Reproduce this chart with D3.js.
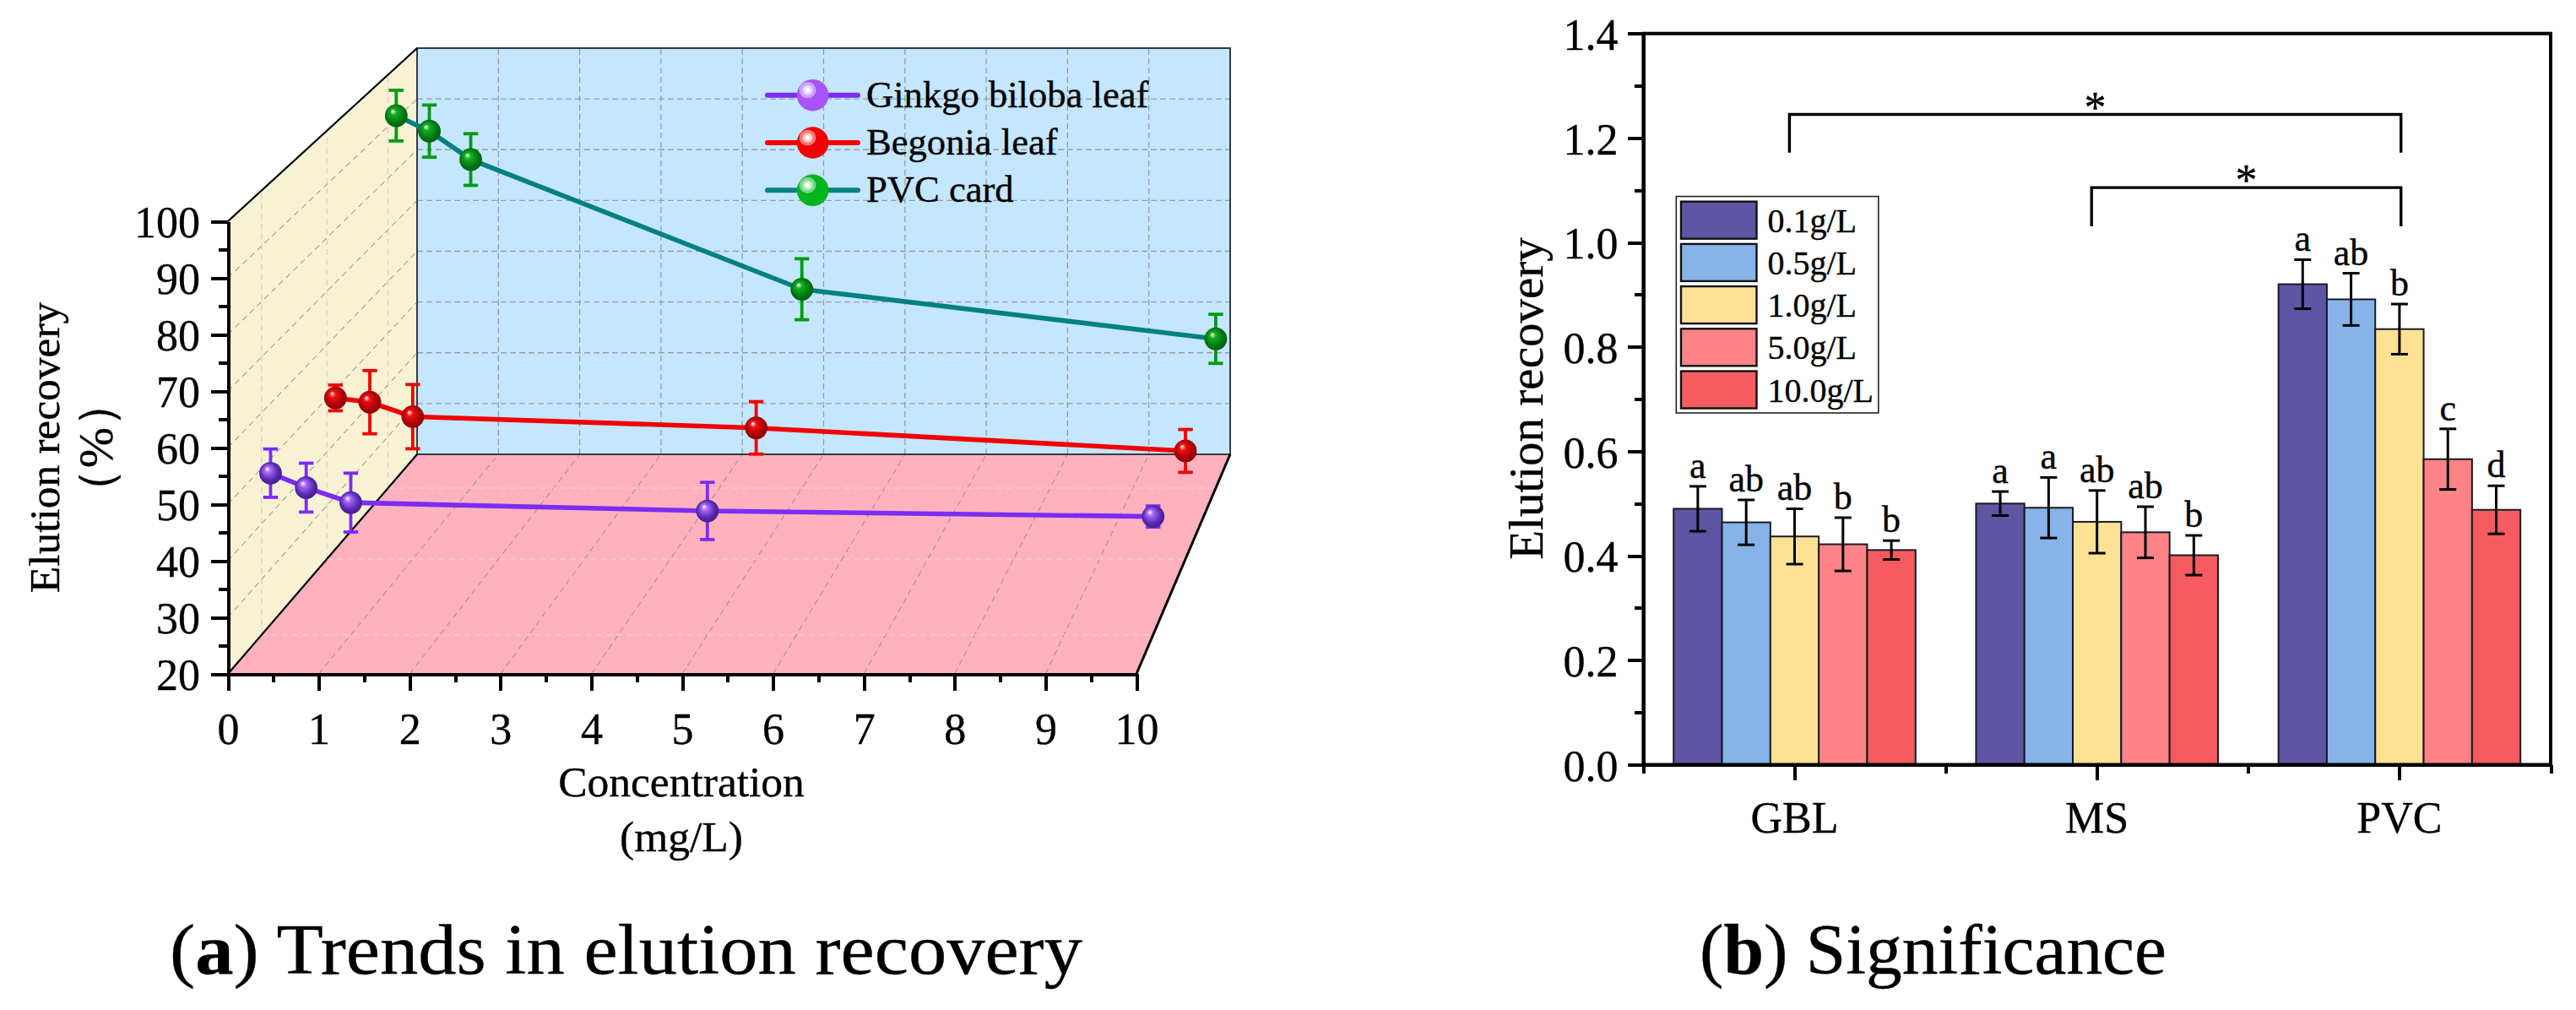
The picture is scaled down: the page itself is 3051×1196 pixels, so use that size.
<!DOCTYPE html>
<html><head><meta charset="utf-8">
<style>
html,body{margin:0;padding:0;background:#fff}
svg{display:block}
text{font-family:"Liberation Serif","Times New Roman",serif;fill:#000;stroke:#000;stroke-width:0.35px}
.axis path,.axis line{stroke:#000;stroke-width:4;shape-rendering:crispEdges}
.axis text{font-family:"Liberation Serif",serif;font-size:52px;fill:#000}
</style>
<script src="https://cdn.jsdelivr.net/npm/d3@7"></script>
</head><body><svg id="c" width="3051" height="1196" viewBox="0 0 3051 1196"></svg>
<script>
// ---------- panel (a) data ----------
const concentrations = [0.1, 0.5, 1, 5, 10];
const seriesNames = ["Ginkgo biloba leaf", "Begonia leaf", "PVC card"];
const seriesDepths = [0.178, 0.523, 0.846];
const ginkgoValues = [49.1, 46.5, 43.8, 42.3, 41.3];
const ginkgoErrors = [4.35, 4.4, 5.3, 5.15, 1.9];
const begoniaValues = [50.1, 49.3, 46.6, 44.5, 40.2];
const begoniaErrors = [2.4, 5.9, 6.0, 4.9, 4.0];
const pvcValues = [92.1, 89.1, 83.6, 58.5, 48.9];
const pvcErrors = [4.9, 5.05, 5.0, 5.9, 4.75];
const xTicksA = d3.range(0, 11, 1);
const yTicksA = d3.range(20, 101, 10);
const depthGrid = [0.178, 0.523, 0.846];
const lineColors = ["#7b2cf5", "#f00000", "#008080"];
const errorColors = ["#7b2cf5", "#f00000", "#009a10"];
const ballStops = [["#a868ff", "#5a2ab0", "#36157a"], ["#f01010", "#b00008", "#6a0004"], ["#10b020", "#007a14", "#00480c"]];
const legendBall = ["#a855f7", "#f00000", "#00b41e"];

// ---------- panel (b) data ----------
const categories = ["GBL", "MS", "PVC"];
const doses = ["0.1g/L", "0.5g/L", "1.0g/L", "5.0g/L", "10.0g/L"];
const doseColors = ["#5e56a3", "#86b4e9", "#fee294", "#ff8387", "#f55b5f"];
const gblValues = [0.490, 0.464, 0.437, 0.422, 0.411];
const gblErrors = [0.043, 0.043, 0.053, 0.051, 0.018];
const gblLetters = ["a", "ab", "ab", "b", "b"];
const msValues = [0.500, 0.492, 0.465, 0.445, 0.401];
const msErrors = [0.023, 0.058, 0.060, 0.049, 0.038];
const msLetters = ["a", "a", "ab", "ab", "b"];
const pvcBarValues = [0.920, 0.891, 0.834, 0.585, 0.488];
const pvcBarErrors = [0.047, 0.050, 0.048, 0.058, 0.046];
const pvcLetters = ["a", "ab", "b", "c", "d"];
const yTicksB = [0, 0.2, 0.4, 0.6, 0.8, 1.0, 1.2, 1.4];
const brackets = [
  {from: -0.017, to: 2.005, top: 1.245, drop: 1.172},
  {from: 0.982, to: 2.005, top: 1.105, drop: 1.031}
];

const svg = d3.select("#c");

// ================= PANEL A =================
const xFront = d3.scaleLinear().domain([0, 10]).range([270, 1346]);
const xBack  = d3.scaleLinear().domain([0, 10]).range([494, 1457]);
const yFront = d3.scaleLinear().domain([20, 100]).range([798, 262]);
const yBack  = d3.scaleLinear().domain([20, 100]).range([538, 57]);
const project = (x, v, d) => [
  xFront(x) + (xBack(x) - xFront(x)) * d,
  yFront(v) + (yBack(v) - yFront(v)) * d
];
const A = svg.append("g");
const poly = pts => "M" + pts.map(p => p.join(",")).join("L") + "Z";
// walls
A.append("path").attr("d", poly([project(0,20,1),project(10,20,1),project(10,100,1),project(0,100,1)]))
  .attr("fill", "#c5e6ff");
A.append("path").attr("d", poly([project(0,20,0),project(10,20,0),project(10,20,1),project(0,20,1)]))
  .attr("fill", "#ffb2be");
A.append("path").attr("d", poly([project(0,20,0),project(0,20,1),project(0,100,1),project(0,100,0)]))
  .attr("fill", "#f8f2d4");

const seg = (g, a, b, stroke, dash, w) => g.append("line")
  .attr("x1", a[0]).attr("y1", a[1]).attr("x2", b[0]).attr("y2", b[1])
  .attr("stroke", stroke).attr("stroke-width", w).attr("stroke-dasharray", dash);
const grid = A.append("g");
// back wall
xTicksA.slice(1, -1).forEach(x => seg(grid, project(x,20,1), project(x,100,1), "#949ea6", "7 4", 1.3));
yTicksA.slice(1, -1).forEach(v => seg(grid, project(0,v,1), project(10,v,1), "#949ea6", "7 4", 1.3));
// floor
xTicksA.slice(1, -1).forEach(x => seg(grid, project(x,20,0), project(x,20,1), "#a08f96", "7 5", 1.1));
depthGrid.forEach(d => seg(grid, project(0,20,d), project(10,20,d), "#f9d6da", "7 5", 1.1));
// left wall
yTicksA.slice(1, -1).forEach(v => seg(grid, project(0,v,0), project(0,v,1), "#a3a08c", "7 5", 1.1));
depthGrid.forEach(d => seg(grid, project(0,20,d), project(0,100,d), "#d0cdbf", "7 5", 1.1));

// frame
const frame = A.append("g").attr("stroke", "#222").attr("fill", "none");
frame.append("path").attr("d", poly([project(0,20,1),project(10,20,1),project(10,100,1),project(0,100,1)]))
  .attr("stroke-width", 2).attr("stroke", "#333c44");
frame.append("path").attr("d", "M" + project(0,100,0) + "L" + project(0,100,1)).attr("stroke-width", 2.2).attr("stroke","#000");
frame.append("path").attr("d", "M" + project(0,20,0) + "L" + project(0,20,1)).attr("stroke-width", 2.2).attr("stroke","#000");
frame.append("path").attr("d", "M" + project(10,20,0) + "L" + project(10,20,1)).attr("stroke-width", 3).attr("stroke","#000");

// axes
const axYA = A.append("g").attr("class", "axis").attr("transform", `translate(${xFront(0)},0)`)
  .call(d3.axisLeft(yFront).tickValues(yTicksA).tickSize(20).tickSizeOuter(0).tickPadding(13).tickFormat(d3.format("d")));
axYA.selectAll("text").attr("dy", "0.36em");
A.append("g").attr("class", "axis").attr("transform", `translate(${xFront(0)},0)`)
  .call(d3.axisLeft(yFront).tickValues(d3.range(25, 100, 10)).tickSize(11).tickSizeOuter(0).tickFormat(""))
  .select("path").remove();
A.append("g").attr("class", "axis").attr("transform", `translate(0,${yFront(20)})`)
  .call(d3.axisBottom(xFront).tickValues(xTicksA).tickSize(20).tickSizeOuter(0).tickPadding(26).tickFormat(d3.format("d")));
A.append("g").attr("class", "axis").attr("transform", `translate(0,${yFront(20)})`)
  .call(d3.axisBottom(xFront).tickValues(d3.range(0.5, 10, 1)).tickSize(10).tickSizeOuter(0).tickFormat(""))
  .select("path").remove();

// gradients for balls
const defs = svg.append("defs");
ballStops.forEach((s, i) => {
  const g = defs.append("radialGradient").attr("id", "ball" + i)
    .attr("cx", "50%").attr("cy", "50%").attr("r", "62%").attr("fx", "34%").attr("fy", "30%");
  g.append("stop").attr("offset", "0%").attr("stop-color", "#fff");
  g.append("stop").attr("offset", "22%").attr("stop-color", s[0]);
  g.append("stop").attr("offset", "62%").attr("stop-color", s[1]);
  g.append("stop").attr("offset", "100%").attr("stop-color", s[2]);
});

// series
const valuesA = [ginkgoValues, begoniaValues, pvcValues];
const errorsA = [ginkgoErrors, begoniaErrors, pvcErrors];
valuesA.forEach((vals, i) => {
  const d = seriesDepths[i], g = A.append("g");
  const pts = concentrations.map((x, j) => ({x, v: vals[j], e: errorsA[i][j]}));
  pts.forEach(p => {
    const c = project(p.x, p.v, d), t = project(p.x, p.v + p.e, d), b = project(p.x, p.v - p.e, d);
    const e = g.append("g").attr("stroke", errorColors[i]).attr("stroke-width", 3.8);
    e.append("line").attr("x1", c[0]).attr("x2", c[0]).attr("y1", t[1]).attr("y2", b[1]);
    [t[1], b[1]].forEach(y => e.append("line").attr("x1", c[0]-8.7).attr("x2", c[0]+8.7).attr("y1", y).attr("y2", y));
  });
  g.append("path").datum(pts)
    .attr("d", d3.line().x(p => project(p.x, p.v, d)[0]).y(p => project(p.x, p.v, d)[1]))
    .attr("fill", "none").attr("stroke", lineColors[i]).attr("stroke-width", 5.6);
  g.selectAll("circle").data(pts).join("circle")
    .attr("cx", p => project(p.x, p.v, d)[0]).attr("cy", p => project(p.x, p.v, d)[1])
    .attr("r", 13.4).attr("fill", `url(#ball${i})`);
});

// legend A
seriesNames.forEach((n, i) => {
  const y = 112.7 + i * 56.3, g = A.append("g");
  g.append("line").attr("x1", 909).attr("x2", 1016).attr("y1", y).attr("y2", y)
    .attr("stroke", lineColors[i]).attr("stroke-width", 6).attr("stroke-linecap", "round");
  g.append("circle").attr("cx", 962.6).attr("cy", y).attr("r", 18.8).attr("fill", legendBall[i]);
  [[10, 9.6, 0.45], [6.2, 6, 0.55], [3, 2.9, 1]].forEach(e =>
    g.append("ellipse").attr("cx", 956.5).attr("cy", y - 6).attr("rx", e[0]).attr("ry", e[1])
      .attr("fill", "#fff").attr("opacity", e[2]));
  g.append("text").attr("x", 1026).attr("y", y + 14).attr("font-size", 44.6).text(n);
});

// titles A
A.append("text").attr("text-anchor", "middle").attr("x", 807).attr("y", 943).attr("font-size", 51.5).text("Concentration");
A.append("text").attr("text-anchor", "middle").attr("x", 807).attr("y", 1008).attr("font-size", 51.5).text("(mg/L)");
A.append("text").attr("text-anchor", "middle").attr("font-size", 51.5)
  .attr("transform", "translate(70,530) rotate(-90)").text("Elution recovery");
A.append("text").attr("text-anchor", "middle").attr("font-size", 58)
  .attr("transform", "translate(133,530) rotate(-90)").text("（%）");
const capA = A.append("text").attr("x", 201).attr("y", 1153).attr("font-size", 84)
  .attr("textLength", 1081).attr("lengthAdjust", "spacingAndGlyphs");
capA.append("tspan").text("(");
capA.append("tspan").attr("font-weight", "bold").text("a");
capA.append("tspan").text(") Trends in elution recovery");

// ================= PANEL B =================
const xB = d3.scaleBand().domain(categories).range([1946.4, 3021]);
const inner = d3.scaleBand().domain(doses).range([0, xB.bandwidth() * 0.8]);
const yB = d3.scaleLinear().domain([0, 1.4]).range([905.5, 39.7]);
const xIdx = d3.scaleLinear().domain([0, 2]).range([xB("GBL") + xB.bandwidth()/2, xB("PVC") + xB.bandwidth()/2]);
const B = svg.append("g");
const barValues = [gblValues, msValues, pvcBarValues];
const barErrors = [gblErrors, msErrors, pvcBarErrors];
const barLetters = [gblLetters, msLetters, pvcLetters];

categories.forEach((c, ci) => {
  const g = B.append("g").attr("transform", `translate(${xB(c) + xB.bandwidth() * 0.1},0)`);
  const rows = doses.map((d, k) => ({d, k, v: barValues[ci][k], e: barErrors[ci][k], l: barLetters[ci][k]}));
  g.selectAll("rect").data(rows).join("rect")
    .attr("x", r => inner(r.d)).attr("width", inner.bandwidth())
    .attr("y", r => yB(r.v)).attr("height", r => yB(0) - yB(r.v))
    .attr("fill", r => doseColors[r.k]).attr("stroke", "#1a1a22").attr("stroke-width", 2);
  rows.forEach(r => {
    const cx = inner(r.d) + inner.bandwidth()/2, t = yB(r.v + r.e), b = yB(r.v - r.e);
    const e = g.append("g").attr("stroke", "#000").attr("stroke-width", 3);
    e.append("line").attr("x1", cx).attr("x2", cx).attr("y1", t).attr("y2", b);
    [t, b].forEach(y => e.append("line").attr("x1", cx-10).attr("x2", cx+10).attr("y1", y).attr("y2", y));
    g.append("text").attr("x", cx).attr("y", t - 10).attr("text-anchor", "middle").attr("font-size", 44).text(r.l);
  });
});

// frame + axes
B.append("rect").attr("x", xB.range()[0]).attr("y", yB(1.4))
  .attr("width", xB.range()[1]-xB.range()[0]).attr("height", yB(0)-yB(1.4))
  .attr("fill", "none").attr("stroke", "#000").attr("stroke-width", 4);
const axYB = B.append("g").attr("class", "axis").attr("transform", `translate(${xB.range()[0]},0)`)
  .call(d3.axisLeft(yB).tickValues(yTicksB).tickSize(18).tickSizeOuter(0).tickPadding(12).tickFormat(d3.format(".1f")));
axYB.selectAll("text").attr("dy", "0.36em");
B.append("g").attr("class", "axis").attr("transform", `translate(${xB.range()[0]},0)`)
  .call(d3.axisLeft(yB).tickValues(d3.range(0.1, 1.4, 0.2)).tickSize(10).tickSizeOuter(0).tickFormat(""))
  .select("path").remove();
B.append("g").attr("class", "axis").attr("transform", `translate(0,${yB(0)})`)
  .call(d3.axisBottom(xB).tickSize(18).tickSizeOuter(0).tickPadding(26));
B.append("g").attr("class", "axis").attr("transform", `translate(0,${yB(0)})`)
  .call(d3.axisBottom(d3.scaleLinear().domain([0, 3]).range(xB.range())).tickValues([0, 1, 2, 3]).tickSize(10).tickSizeOuter(0).tickFormat(""))
  .select("path").remove();

B.append("text").attr("text-anchor", "middle").attr("font-size", 57)
  .attr("transform", "translate(1827,472) rotate(-90)").text("Elution recovery");

// brackets
brackets.forEach(b => {
  B.append("path").attr("fill", "none").attr("stroke", "#000").attr("stroke-width", 3.4)
    .attr("d", `M${xIdx(b.from)},${yB(b.drop)}V${yB(b.top)}H${xIdx(b.to)}V${yB(b.drop)}`);
  B.append("text").attr("x", (xIdx(b.from) + xIdx(b.to)) / 2).attr("y", yB(b.top) + 9)
    .attr("text-anchor", "middle").attr("font-size", 52).text("*");
});

// legend B
const legB = B.append("g");
legB.append("rect").attr("x", 1985.3).attr("y", 232.6).attr("width", 239.5).attr("height", 256.4)
  .attr("fill", "#fff").attr("stroke", "#222").attr("stroke-width", 1.6);
doses.forEach((d, i) => {
  const y = 238.7 + i * 50.2;
  legB.append("rect").attr("x", 1991).attr("y", y).attr("width", 89.5).attr("height", 44)
    .attr("fill", doseColors[i]).attr("stroke", "#111").attr("stroke-width", 2.4);
  legB.append("text").attr("x", 2093.4).attr("y", y + 36).attr("font-size", 40).text(d);
});

const capB = B.append("text").attr("x", 2013).attr("y", 1153).attr("font-size", 84)
  .attr("textLength", 553).attr("lengthAdjust", "spacingAndGlyphs");
capB.append("tspan").text("(");
capB.append("tspan").attr("font-weight", "bold").text("b");
capB.append("tspan").text(") Significance");
</script></body></html>
